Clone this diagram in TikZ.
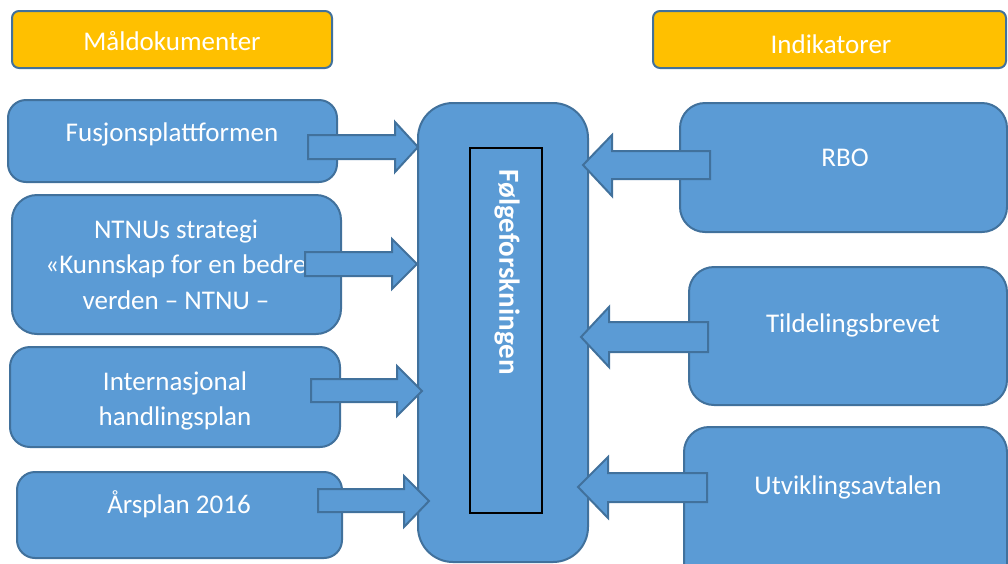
\documentclass[tikz,border=0pt]{standalone}
\usepackage{fontspec}
\setmainfont{Carlito}
\usetikzlibrary{fit}
\definecolor{boxblue}{HTML}{5B9BD5}
\definecolor{bordc}{HTML}{41719C}
\definecolor{gold}{HTML}{FFC000}
\begin{document}
\begin{tikzpicture}[x=1pt,y=-1pt,
  box/.style={draw=bordc, line width=2pt, fill=boxblue, rounded corners=#1, inner sep=0pt, outer sep=0pt},
  hdr/.style={draw=bordc, line width=2pt, fill=gold, rounded corners=7pt, inner sep=0pt, outer sep=0pt},
  txt/.style={text=white, font=\fontsize{27}{32}\selectfont, anchor=base, inner sep=0pt},
  arr/.style={draw=bordc, line width=2pt, fill=boxblue, line join=miter},
  inner/.style={draw=black, line width=1.8pt, fill=boxblue, inner sep=0pt}]
\useasboundingbox (0,0) rectangle (1008,563);
\clip (0,0) rectangle (1008,563);
% header boxes
\node[hdr, fit={(12,11)(332,68)}] (mal) {};
\node[txt] (malt) at (172,50) {Måldokumenter};
\node[hdr, fit={(653,11)(1006,68)}] (ind) {};
\node[txt] (indt) at (831,53) {Indikatorer};
% left boxes
\node[box=18pt, fit={(8,100)(337,182)}] (fus) {};
\node[txt] (fust) at (172,141) {Fusjonsplattformen};
\node[box=25pt, fit={(12,195)(341,334)}] (ntnu) {};
\node[txt] (ntnu1) at (176,238) {NTNUs strategi};
\node[txt] (ntnu2) at (176,273) {«Kunnskap for en bedre};
\node[txt] (ntnu3) at (176,309) {verden – NTNU –};
\node[box=20pt, fit={(10,347)(340,447)}] (int) {};
\node[txt] (int1) at (175,390) {Internasjonal};
\node[txt] (int2) at (175,425) {handlingsplan};
\node[box=18pt, fit={(17,472)(342,558)}] (ars) {};
\node[txt] (arst) at (179,513) {Årsplan 2016};
% centre
\node[box=35pt, fit={(418,103)(588,562)}] (mid) {};
\node[inner, fit={(470,148)(542,513)}] (midin) {};
\node[text=white, font=\fontsize{29}{34}\selectfont\bfseries, rotate=-90, inner sep=0pt] (midt) at (507,272) {Følgeforskningen};
% right boxes
\node[box=25pt, fit={(680,103)(1007,232)}] (rbo) {};
\node[txt] (rbot) at (845,166) {RBO};
\node[box=25pt, fit={(689,267)(1007,405)}] (til) {};
\node[txt] (tilt) at (853,332) {Tildelingsbrevet};
\node[box=25pt, fit={(684,427)(1007,590)}] (utv) {};
\node[txt] (utvt) at (848,494) {Utviklingsavtalen};
% block arrows into the centre
\draw[arr] (308,135) -- (395,135) -- (395,122) -- (418,147) -- (395,172) -- (395,159) -- (308,159) -- cycle;
\draw[arr] (305,252) -- (392,252) -- (392,239) -- (417,264) -- (392,289) -- (392,276) -- (305,276) -- cycle;
\draw[arr] (311,379) -- (397,379) -- (397,366) -- (422,391) -- (397,416) -- (397,402) -- (311,402) -- cycle;
\draw[arr] (318,489) -- (404,489) -- (404,476) -- (429,501) -- (404,527) -- (404,512) -- (318,512) -- cycle;
\draw[arr] (710,151) -- (612,151) -- (612,135) -- (583,165) -- (612,196) -- (612,179) -- (710,179) -- cycle;
\draw[arr] (708,322) -- (609,322) -- (609,307) -- (581,337) -- (609,367) -- (609,352) -- (708,352) -- cycle;
\draw[arr] (707,473) -- (608,473) -- (608,457) -- (578,487) -- (608,518) -- (608,502) -- (707,502) -- cycle;
\end{tikzpicture}
\end{document}
